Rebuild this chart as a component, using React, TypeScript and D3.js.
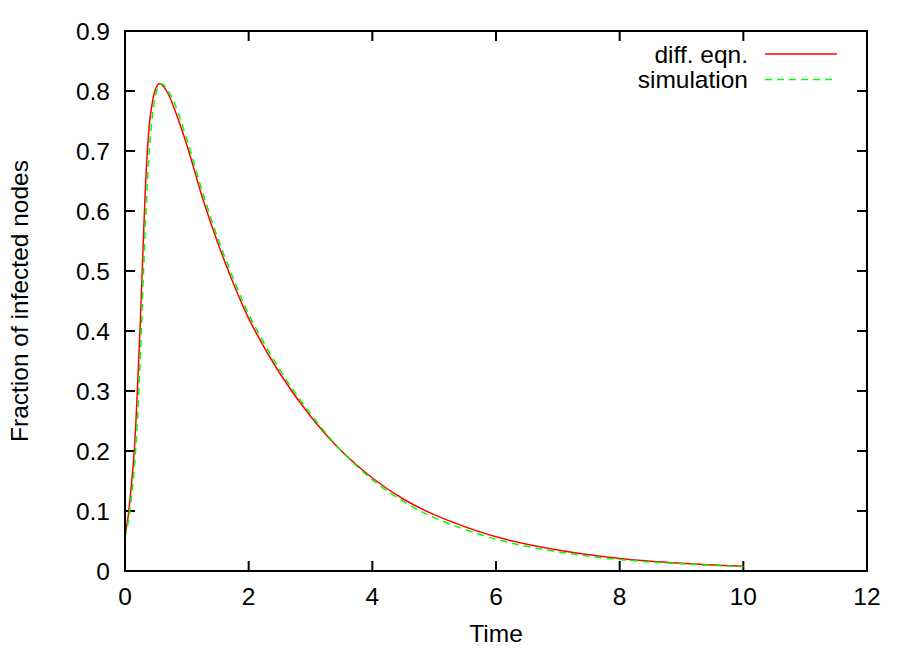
import { useEffect, useRef } from 'react';
import * as d3 from 'd3';

// time samples (shared by both series)
const times = [0, 0.05, 0.1, 0.15, 0.2, 0.25, 0.3, 0.35, 0.4, 0.45, 0.5, 0.55, 0.6, 0.7, 0.8, 1.0, 1.25, 1.5, 1.75, 2.0, 2.5, 3.0, 3.5, 4.0, 4.5, 5.0, 6.0, 7.0, 8.0, 9.0, 10.0];

// fraction of infected nodes, differential equation
const diffEqn = [0.06, 0.09, 0.14, 0.2, 0.3, 0.42, 0.56, 0.68, 0.75, 0.785, 0.805, 0.812, 0.81, 0.795, 0.77, 0.71, 0.623, 0.547, 0.48, 0.421, 0.33, 0.258, 0.2, 0.155, 0.12, 0.094, 0.057, 0.035, 0.021, 0.013, 0.008];

// fraction of infected nodes, simulation
const simulation = [0.055, 0.08, 0.12, 0.17, 0.25, 0.36, 0.5, 0.62, 0.71, 0.765, 0.795, 0.809, 0.812, 0.8, 0.78, 0.72, 0.633, 0.555, 0.488, 0.428, 0.336, 0.262, 0.2, 0.152, 0.116, 0.089, 0.053, 0.032, 0.019, 0.012, 0.007];

const xTicks = [0, 2, 4, 6, 8, 10, 12];
const yTicks = [0, 0.1, 0.2, 0.3, 0.4, 0.5, 0.6, 0.7, 0.8, 0.9];

const seriesNames = ['diff. eqn.', 'simulation'];
const seriesColors = ['#ff0000', '#00ff00'];

const App = () => {
  const svgRef = useRef(null);

  useEffect(() => {
    const width = 913;
    const height = 653;
    const margin = { top: 31, right: 46, bottom: 82, left: 125 };
    const font = '"Liberation Sans", Arial, Helvetica, sans-serif';
    const fs = 24.5;

    const svg = d3.select(svgRef.current);
    svg.selectAll('*').remove();
    svg.attr('width', width).attr('height', height);

    const x = d3.scaleLinear().domain([0, 12]).range([margin.left, width - margin.right]);
    const y = d3.scaleLinear().domain([0, 0.9]).range([height - margin.bottom, margin.top]);

    const tickLen = 10;
    const axisG = svg.append('g').attr('stroke', '#000').attr('stroke-width', 2);

    // x ticks bottom + mirrored top
    xTicks.forEach(t => {
      axisG.append('line')
        .attr('x1', x(t)).attr('x2', x(t))
        .attr('y1', y(0)).attr('y2', y(0) - tickLen);
      axisG.append('line')
        .attr('x1', x(t)).attr('x2', x(t))
        .attr('y1', y(0.9)).attr('y2', y(0.9) + tickLen);
    });
    // y ticks left + mirrored right
    yTicks.forEach(t => {
      axisG.append('line')
        .attr('x1', x(0)).attr('x2', x(0) + tickLen)
        .attr('y1', y(t)).attr('y2', y(t));
      axisG.append('line')
        .attr('x1', x(12)).attr('x2', x(12) - tickLen)
        .attr('y1', y(t)).attr('y2', y(t));
    });

    // tick labels
    svg.append('g')
      .selectAll('text')
      .data(xTicks)
      .join('text')
      .attr('x', d => x(d))
      .attr('y', 605)
      .attr('text-anchor', 'middle')
      .attr('font-family', font)
      .attr('font-size', fs)
      .text(d => d3.format('~g')(d));

    svg.append('g')
      .selectAll('text')
      .data(yTicks)
      .join('text')
      .attr('x', x(0) - 15)
      .attr('y', d => y(d))
      .attr('dy', '0.36em')
      .attr('text-anchor', 'end')
      .attr('font-family', font)
      .attr('font-size', fs)
      .text(d => d3.format('~g')(d));

    // axis titles
    svg.append('text')
      .attr('x', (x(0) + x(12)) / 2)
      .attr('y', 642)
      .attr('text-anchor', 'middle')
      .attr('font-family', font)
      .attr('font-size', fs)
      .text('Time');

    svg.append('text')
      .attr('transform', `translate(28, ${(y(0) + y(0.9)) / 2}) rotate(-90)`)
      .attr('text-anchor', 'middle')
      .attr('font-family', font)
      .attr('font-size', fs)
      .text('Fraction of infected nodes');

    // curves
    const line = d3.line()
      .x(d => x(d[0]))
      .y(d => y(d[1]))
      .curve(d3.curveCatmullRom.alpha(0.5));

    const allSeries = [diffEqn, simulation];
    allSeries.forEach((vals, i) => {
      svg.append('path')
        .datum(times.map((t, j) => [t, vals[j]]))
        .attr('d', line)
        .attr('fill', 'none')
        .attr('stroke', seriesColors[i])
        .attr('stroke-width', 1.5)
        .attr('stroke-dasharray', i === 1 ? '7,5' : null);
    });

    // legend
    const legend = svg.append('g');
    seriesNames.forEach((name, i) => {
      const ly = 54 + i * 25.5;
      legend.append('text')
        .attr('x', 748)
        .attr('y', ly)
        .attr('dy', '0.36em')
        .attr('text-anchor', 'end')
        .attr('font-family', font)
        .attr('font-size', fs)
        .text(name);
      legend.append('line')
        .attr('x1', 765).attr('x2', 837)
        .attr('y1', ly).attr('y2', ly)
        .attr('stroke', seriesColors[i])
        .attr('stroke-width', 1.5)
        .attr('stroke-dasharray', i === 1 ? '7,5' : null);
    });

    // frame
    svg.append('rect')
      .attr('x', x(0)).attr('y', y(0.9))
      .attr('width', x(12) - x(0)).attr('height', y(0) - y(0.9))
      .attr('fill', 'none')
      .attr('stroke', '#000')
      .attr('stroke-width', 2);
  }, []);

  return (
    <div style={{ position: 'absolute', left: 0, top: 0, width: 913, height: 653, background: '#fff' }}>
      <svg ref={svgRef} style={{ display: 'block' }} />
    </div>
  );
};

export default App;
